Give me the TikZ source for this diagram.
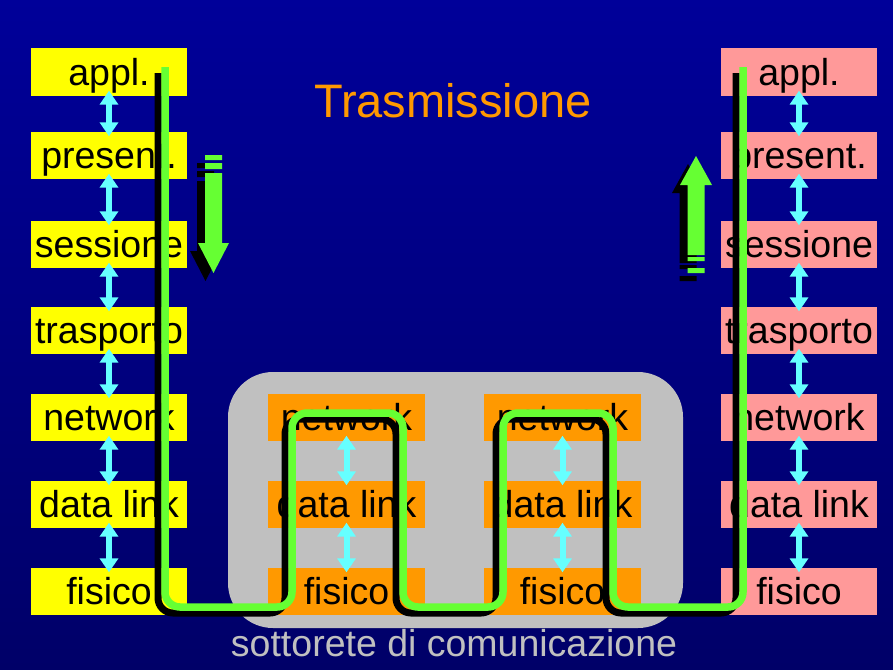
\documentclass[tikz,border=0pt]{standalone}
\usepackage{fontspec}
\setmainfont{Liberation Sans}
\usetikzlibrary{arrows.meta}

\definecolor{bgtop}{HTML}{000099}
\definecolor{bgbot}{HTML}{000068}
\definecolor{hostyellow}{HTML}{FFFF00}
\definecolor{hostpink}{HTML}{FF9999}
\definecolor{routeorange}{HTML}{FF9900}
\definecolor{subgrey}{HTML}{C0C0C0}
\definecolor{flowgreen}{HTML}{66FF33}
\definecolor{peercyan}{HTML}{66FFFF}

\begin{document}
\begin{tikzpicture}[x=1pt, y=-1pt,
	layer/.style={minimum width=156pt, minimum height=47pt, inner sep=0pt,
		text height=27pt, text depth=0pt, font=\fontsize{37.5}{40}\selectfont},
	left/.style={layer, fill=hostyellow},
	right/.style={layer, fill=hostpink},
	mid/.style={layer, fill=routeorange, minimum width=157pt},
	peer/.style={peercyan, line width=6pt,
		{Triangle[width=18pt 0 0,length=14pt 0 0]}-{Triangle[width=18pt 0 0,length=14pt 0 0]},
		shorten <=-5pt, shorten >=-5pt},
	flow/.style={flowgreen, line width=7.5pt, rounded corners=15pt},
	flowshadow/.style={black, line width=7pt, rounded corners=15pt}]
	\useasboundingbox (0, 0) rectangle (893, 669);
	\shade [top color=bgtop, bottom color=bgbot] (0, 0) rectangle (893, 669);
	\node [fill=subgrey, rounded corners=45pt, minimum width=455pt, minimum height=256pt] (S) at (455.5, 500) {};

	% host di partenza
	\node [left] (LA) at (109, 72) {appl.};
	\node [left] (LP) at (109, 155) {present.};
	\node [left] (LS) at (109, 244) {sessione};
	\node [left] (LT) at (109, 330) {trasporto};
	\node [left] (LN) at (109, 417) {network};
	\node [left] (LD) at (109, 504) {data link};
	\node [left] (LF) at (109, 591) {fisico};
	% host di arrivo
	\node [right] (RA) at (799, 72) {appl.};
	\node [right] (RP) at (799, 155) {present.};
	\node [right] (RS) at (799, 244) {sessione};
	\node [right] (RT) at (799, 330) {trasporto};
	\node [right] (RN) at (799, 417) {network};
	\node [right] (RD) at (799, 504) {data link};
	\node [right] (RF) at (799, 591) {fisico};
	% nodi intermedi
	\node [mid] (AN) at (346.5, 417) {network};
	\node [mid] (AD) at (346.5, 504) {data link};
	\node [mid] (AF) at (346.5, 591) {fisico};
	\node [mid] (BN) at (562.5, 417) {network};
	\node [mid] (BD) at (562.5, 504) {data link};
	\node [mid] (BF) at (562.5, 591) {fisico};

	\draw [peer] (LA) -- (LP);
	\draw [peer] (LP) -- (LS);
	\draw [peer] (LS) -- (LT);
	\draw [peer] (LT) -- (LN);
	\draw [peer] (LN) -- (LD);
	\draw [peer] (LD) -- (LF);
	\draw [peer] (RA) -- (RP);
	\draw [peer] (RP) -- (RS);
	\draw [peer] (RS) -- (RT);
	\draw [peer] (RT) -- (RN);
	\draw [peer] (RN) -- (RD);
	\draw [peer] (RD) -- (RF);
	\draw [peer] (AN) -- (AD);
	\draw [peer] (AD) -- (AF);
	\draw [peer] (BN) -- (BD);
	\draw [peer] (BD) -- (BF);

	% frecce di direzione
	\foreach \col/\s in {black/8, flowgreen/0} {
		\fill [\col, shift={(-\s, \s)}] (205, 155) rectangle (222, 160) (205, 163) rectangle (222, 169)
			(205, 173) -- (222, 173) -- (222, 243) -- (229, 243) -- (213.5, 273) -- (198, 243) -- (205, 243) -- cycle;
		\fill [\col, shift={(-\s, \s)}] (687.5, 257) rectangle (704.5, 261) (687.5, 268) rectangle (704.5, 273)
			(696, 156) -- (712, 185) -- (704.5, 185) -- (704.5, 255) -- (687.5, 255) -- (687.5, 185) -- (680, 185) -- cycle;
	}

	% percorso dei dati
	\coordinate (Lstart) at (165, 67);
	\coordinate (Rstop) at (743, 67);
	\draw [flowshadow, transform canvas={shift={(-7, 6)}}] (Lstart) |- (292, 607) |- (403, 413) |- (503, 607) |- (613, 413) |- (743, 607) -- (Rstop);
	\draw [flow] (Lstart) |- (292, 607) |- (403, 413) |- (503, 607) |- (613, 413) |- (743, 607) -- (Rstop);

	\node [anchor=base, text=routeorange, font=\fontsize{47}{50}\selectfont] (title) at (453, 117) {Trasmissione};
	\node [anchor=base, text=subgrey, font=\fontsize{37.5}{40}\selectfont] (subnet) at (454, 656) {sottorete di comunicazione};
\end{tikzpicture}
\end{document}
